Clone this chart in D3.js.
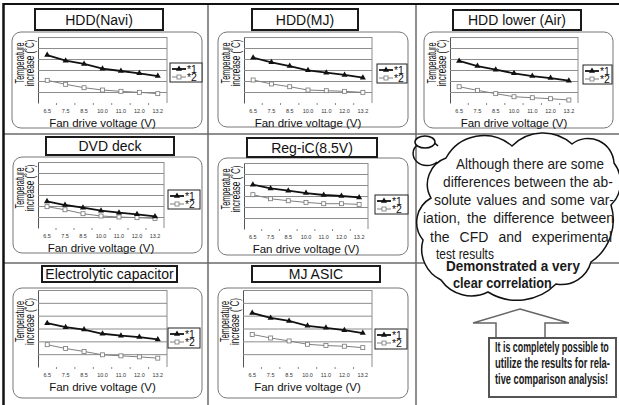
<!DOCTYPE html>
<meta charset="utf-8">
<script src="https://d3js.org/d3.v7.min.js"></script>
<style>
  body { margin: 0; background: #fff; }
  svg { display: block; font-family: "Liberation Sans", Arial, sans-serif; }
</style>
<div id="chart"></div>
<script>

// categories on the x axis
var voltages = ["6.5", "7.5", "8.5", "10.0", "11.0", "12.0", "13.2"];
var gridTicks = [1, 2, 3, 4, 5, 6];
var titles = ["HDD(Navi)", "HDD(MJ)", "HDD lower (Air)", "DVD deck", "Reg-iC(8.5V)",
              "Electrolytic capacitor", "MJ ASIC"];
var seriesNames = ["*1", "*2"];

// values (in grid steps, axis has no numbers)
var navi1 = [4.36, 3.85, 3.55, 3.12, 2.91, 2.70, 2.45];
var navi2 = [2.06, 1.70, 1.39, 1.18, 1.06, 0.97, 0.85];
var mj1   = [4.12, 3.70, 3.36, 2.97, 2.76, 2.55, 2.30];
var mj2   = [2.09, 1.73, 1.48, 1.18, 1.12, 1.06, 0.97];
var air1  = [3.82, 3.36, 3.03, 2.70, 2.45, 2.27, 2.03];
var air2  = [1.48, 1.15, 0.85, 0.57, 0.48, 0.39, 0.27];
var dvd1  = [2.42, 2.09, 1.85, 1.57, 1.39, 1.24, 1.05];
var dvd2  = [1.94, 1.66, 1.30, 1.09, 1.00, 0.94, 0.87];
var reg1  = [4.03, 3.69, 3.48, 3.27, 3.09, 3.00, 2.87];
var reg2  = [3.12, 2.75, 2.57, 2.42, 2.30, 2.30, 2.24];
var cap1  = [3.41, 3.10, 2.92, 2.59, 2.44, 2.33, 2.15];
var cap2  = [1.74, 1.44, 1.21, 0.95, 0.87, 0.79, 0.69];
var asic1 = [4.21, 3.82, 3.59, 3.21, 3.05, 2.87, 2.64];
var asic2 = [2.54, 2.26, 2.03, 1.77, 1.67, 1.62, 1.51];

var noteLines = ["Although there are some", "differences between the ab-", "solute values and some var-",
                 "iation, the difference between", "the CFD and experimental", "test results"];
var noteBold = ["Demonstrated a very", "clear correlation"];
var boxLines = ["It is completely possible to", "utilize the results for rela-", "tive comparison analysis!"];

// panel layout: plot / title box / rounded frame / legend  [x, y, w, h]
var panels = [
  {title: titles[0], s1: navi1, s2: navi2, plot: [38, 37, 129, 66],  head: [35, 9, 128, 21],   frame: [12, 32, 190, 96],   legend: [170, 63, 32, 19]},
  {title: titles[1], s1: mj1,   s2: mj2,   plot: [244, 37, 128, 66], head: [252, 9, 106, 21],  frame: [218, 32, 190, 95],  legend: [377, 64, 30, 19]},
  {title: titles[2], s1: air1,  s2: air2,  plot: [450, 37, 128, 66], head: [453, 10, 128, 20], frame: [424, 32, 189, 96],  legend: [583, 65, 29, 19]},
  {title: titles[3], s1: dvd1,  s2: dvd2,  plot: [38, 162, 126, 66], head: [46, 137, 128, 18], frame: [13, 157, 189, 96],  legend: [168, 190, 32, 19]},
  {title: titles[4], s1: reg1,  s2: reg2,  plot: [244, 163, 124, 66],head: [247, 138, 130, 19],frame: [218, 158, 190, 97], legend: [375, 195, 33, 19]},
  {title: titles[5], s1: cap1,  s2: cap2,  plot: [38, 290, 129, 77], head: [42, 266, 135, 16], frame: [13, 288, 189, 110], legend: [168, 328, 32, 20]},
  {title: titles[6], s1: asic1, s2: asic2, plot: [243, 290, 129, 77],head: [252, 266, 128, 16],frame: [218, 288, 190, 110], legend: [375, 329, 32, 20]}
];

var svg = d3.select("#chart").append("svg")
    .attr("width", 619)
    .attr("height", 405);

svg.append("rect").attr("width", 619).attr("height", 405).attr("fill", "#fff");

// cell dividers
[208, 416].forEach(function(x) {
  svg.append("line").attr("x1", x).attr("x2", x).attr("y1", 4).attr("y2", 405)
    .attr("stroke", "#6a6a6a").attr("stroke-width", 1.5);
});
[134, 263].forEach(function(y) {
  svg.append("line").attr("x1", 3).attr("x2", 619).attr("y1", y).attr("y2", y)
    .attr("stroke", "#6a6a6a").attr("stroke-width", 1.5);
});
svg.append("line").attr("x1", 3.5).attr("x2", 3.5).attr("y1", 3).attr("y2", 405)
  .attr("stroke", "#111").attr("stroke-width", 2.5);
svg.append("line").attr("x1", 3).attr("x2", 619).attr("y1", 4).attr("y2", 4)
  .attr("stroke", "#111").attr("stroke-width", 2);

// place a text line at (x, y), then stretch word gaps or squeeze the glyphs to a target width
function fit(sel, x, y, target, words, rot) {
  var natural = sel.node().getComputedTextLength();
  var spaces = sel.text().split(" ").length - 1;
  var tf = "translate(" + x + "," + y + ")" + (rot ? " rotate(" + rot + ")" : "");
  if (words && natural < target && spaces > 0) {
    sel.style("word-spacing", ((target - natural) / spaces) + "px");
  } else if (target) {
    tf += " scale(" + (target / natural) + ",1)";
  }
  sel.attr("transform", tf);
}

panels.forEach(function(p) {
  var g = svg.append("g");
  var px = p.plot[0], py = p.plot[1], pw = p.plot[2], ph = p.plot[3];

  g.append("rect")
    .attr("x", p.frame[0]).attr("y", p.frame[1])
    .attr("width", p.frame[2]).attr("height", p.frame[3])
    .attr("rx", 9).attr("fill", "#fff").attr("stroke", "#777").attr("stroke-width", 1);

  g.append("rect")
    .attr("x", p.head[0]).attr("y", p.head[1])
    .attr("width", p.head[2]).attr("height", p.head[3])
    .attr("fill", "#fff").attr("stroke", "#1a1a1a").attr("stroke-width", 2);
  g.append("text")
    .attr("x", p.head[0] + p.head[2] / 2)
    .attr("y", p.head[1] + p.head[3] / 2 + 5)
    .attr("text-anchor", "middle")
    .style("font-size", "14px").attr("fill", "#111")
    .text(p.title);

  var x = d3.scaleBand().domain(voltages).range([px, px + pw]);
  var y = d3.scaleLinear().domain([0, 6]).range([py + ph, py]);

  // grid lines + left axis
  var grid = g.append("g")
    .attr("transform", "translate(" + px + ",0)")
    .call(d3.axisLeft(y).tickValues(gridTicks).tickSize(-pw).tickSizeOuter(0).tickFormat(""));
  grid.selectAll(".tick line").attr("stroke", "#8c8c8c").attr("stroke-width", 1);
  grid.select(".domain").attr("stroke", "#555").attr("stroke-width", 1);
  g.append("line")
    .attr("x1", px + pw).attr("x2", px + pw)
    .attr("y1", y(6)).attr("y2", y(0))
    .attr("stroke", "#8c8c8c");

  // x tick labels
  var xa = g.append("g")
    .attr("transform", "translate(0," + (py + ph) + ")")
    .call(d3.axisBottom(x).tickSize(0).tickPadding(6));
  xa.select(".domain").remove();
  xa.selectAll("text").style("font-size", "5.5px").attr("fill", "#333")
    .style("font-family", "'Liberation Sans', Arial, sans-serif");

  // small tick marks between categories
  g.selectAll(".bt").data(voltages.slice(1)).enter().append("line")
    .attr("x1", function(d) { return x(d); }).attr("x2", function(d) { return x(d); })
    .attr("y1", y(0)).attr("y2", y(0) + 2)
    .attr("stroke", "#888");

  // axis titles
  var cy = py + ph / 2 - 7;
  var t1 = g.append("text")
    .attr("text-anchor", "middle").style("font-size", "12.5px").attr("fill", "#111")
    .text("Temperature");
  fit(t1, px - 14.5, cy, 41, false, -90);
  var t2 = g.append("text")
    .attr("text-anchor", "middle").style("font-size", "12.5px").attr("fill", "#111")
    .text("increase (\u02DAC)");
  fit(t2, px - 4.5, cy, 47, false, -90);

  g.append("text")
    .attr("x", px + pw / 2).attr("y", py + ph + 23.5)
    .attr("text-anchor", "middle").style("font-size", "11.5px").attr("fill", "#111")
    .text("Fan drive voltage (V)");

  var cx = function(d, i) { return x(voltages[i]) + x.bandwidth() / 2; };
  var line = d3.line().x(cx).y(function(d) { return y(d); });

  g.append("path").datum(p.s2)
    .attr("d", line).attr("fill", "none").attr("stroke", "#808080").attr("stroke-width", 1);
  g.selectAll(".m2").data(p.s2).enter().append("rect")
    .attr("x", function(d, i) { return cx(d, i) - 2; })
    .attr("y", function(d) { return y(d) - 2; })
    .attr("width", 4).attr("height", 4)
    .attr("fill", "#fff").attr("stroke", "#777").attr("stroke-width", 0.8);

  g.append("path").datum(p.s1)
    .attr("d", line).attr("fill", "none").attr("stroke", "#111").attr("stroke-width", 1.8);
  g.selectAll(".m1").data(p.s1).enter().append("path")
    .attr("d", d3.symbol(d3.symbolTriangle, 16))
    .attr("transform", function(d, i) { return "translate(" + cx(d, i) + "," + y(d) + ")"; })
    .attr("fill", "#111");

  // legend
  var lx = p.legend[0], ly = p.legend[1], lw = p.legend[2], lh = p.legend[3];
  g.append("rect").attr("x", lx).attr("y", ly).attr("width", lw).attr("height", lh)
    .attr("fill", "#fff").attr("stroke", "#222").attr("stroke-width", 1);
  g.append("line").attr("x1", lx + 2).attr("x2", lx + 16).attr("y1", ly + 6).attr("y2", ly + 6)
    .attr("stroke", "#111").attr("stroke-width", 1.8);
  g.append("path").attr("d", d3.symbol(d3.symbolTriangle, 16))
    .attr("transform", "translate(" + (lx + 9) + "," + (ly + 6) + ")").attr("fill", "#111");
  g.append("line").attr("x1", lx + 2).attr("x2", lx + 16).attr("y1", ly + 14).attr("y2", ly + 14)
    .attr("stroke", "#808080").attr("stroke-width", 1);
  g.append("rect").attr("x", lx + 7).attr("y", ly + 12).attr("width", 4).attr("height", 4)
    .attr("fill", "#fff").attr("stroke", "#777").attr("stroke-width", 0.8);
  var lt = g.append("text").attr("y", ly + 9.5)
    .style("font-size", "10.5px").attr("fill", "#111");
  seriesNames.forEach(function(s, i) {
    lt.append("tspan").attr("x", lx + 17).attr("dy", i ? 8 : 0).text(s);
  });
});

// cloud with the comment
var cloudPts = [[446,158],[512,146],[572,144],[614,163],[611,205],[591,262],[556,284],
                [488,292],[441,280],[423,240],[431,198],[446,158]];
var cloudSag = [16, 12, 14, 8, 10, 8, 12, 9, 8, 10, 10];
var cd = "M" + cloudPts[0];
for (var i = 0; i < cloudPts.length - 1; i++) {
  var a = cloudPts[i], b = cloudPts[i + 1];
  var c = Math.hypot(b[0] - a[0], b[1] - a[1]), s = cloudSag[i];
  var r = (c * c / 4 + s * s) / (2 * s);
  cd += "A" + r + "," + r + " 0 0 1 " + b;
}
svg.append("path").attr("d", cd + "Z")
  .attr("fill", "#fff").attr("stroke", "#111").attr("stroke-width", 1.5);
svg.append("path").attr("d", "M438,146 A14,12 0 1 0 437,162")
  .attr("fill", "none").attr("stroke", "#111").attr("stroke-width", 1.5);
svg.append("ellipse").attr("cx", 425).attr("cy", 142).attr("rx", 10).attr("ry", 6)
  .attr("fill", "#fff").attr("stroke", "#111").attr("stroke-width", 1.5);

var notePos = [[456, 168.5, 148], [443, 187, 170], [434, 205, 180],
               [423, 223, 191], [430, 241.5, 182], [436, 258.5, 58]];
noteLines.forEach(function(t, i) {
  var tx = svg.append("text")
    .style("font-size", "14px").attr("fill", "#1a1a1a").text(t);
  fit(tx, notePos[i][0], notePos[i][1], notePos[i][2], i < 5);
});
var boldPos = [[446, 271, 134], [453, 288, 99]];
noteBold.forEach(function(t, i) {
  var tx = svg.append("text")
    .style("font-size", "14px").style("font-weight", "bold").attr("fill", "#1a1a1a").text(t);
  fit(tx, boldPos[i][0], boldPos[i][1], boldPos[i][2], true);
});

// hollow arrow and conclusion box
svg.append("path")
  .attr("d", "M520,309 L569,323 L545,323 L545,338 L496,338 L496,323 L473,323 Z")
  .attr("fill", "#fff").attr("stroke", "#666").attr("stroke-width", 1.5);
svg.append("rect").attr("x", 489).attr("y", 338).attr("width", 127).attr("height", 59)
  .attr("fill", "#fff").attr("stroke", "#555").attr("stroke-width", 2);
var boxPos = [[495, 352, 114], [495, 368, 115], [495, 384, 113]];
boxLines.forEach(function(t, i) {
  var tx = svg.append("text")
    .style("font-size", "14px").style("font-weight", "bold").attr("fill", "#1a1a1a").text(t);
  fit(tx, boxPos[i][0], boxPos[i][1], boxPos[i][2], false);
});
</script>
